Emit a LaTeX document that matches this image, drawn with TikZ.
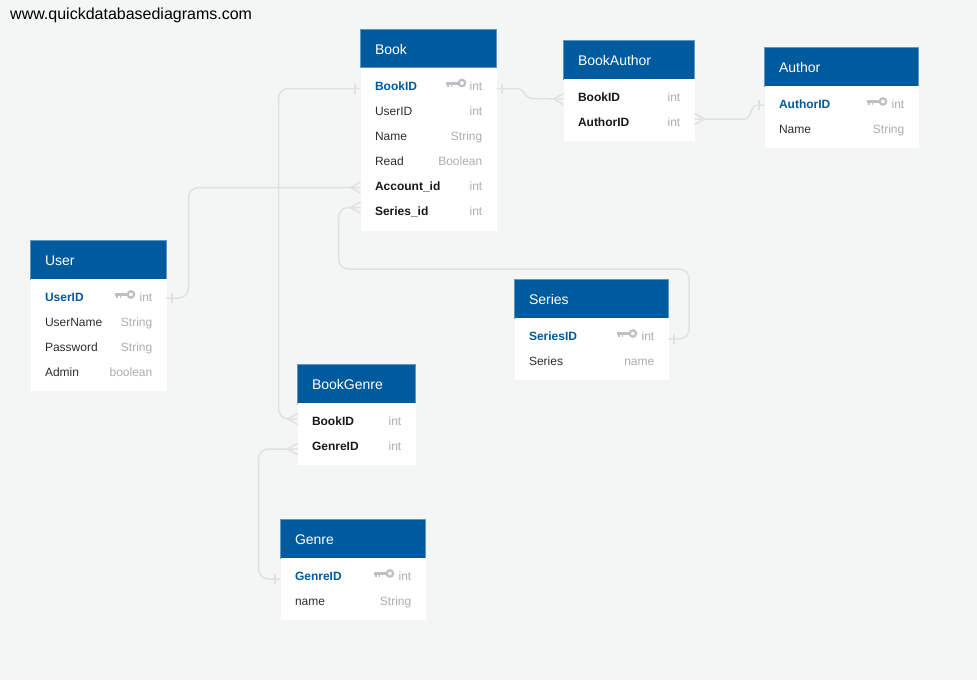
\documentclass[tikz,border=0pt]{standalone}
\usepackage{fontspec}
\setmainfont{Liberation Sans}
\usetikzlibrary{positioning}
\definecolor{pagebg}{HTML}{F4F6F6}
\definecolor{headblue}{HTML}{005A9E}
\definecolor{headedge}{HTML}{5C96C4}
\definecolor{linkgrey}{HTML}{DEE1E6}
\definecolor{typegrey}{HTML}{ABADB0}
\definecolor{keygrey}{HTML}{BDBFC2}
\definecolor{fieldtext}{HTML}{2E2E2E}
\tikzset{
    tablehead/.style = {draw=headedge, line width=0.7pt, fill=headblue, text=white, outer sep=0pt, inner xsep=14.5pt, inner ysep=0pt,
        minimum height=38.5pt, text width=#1-29pt, align=left, font=\fontsize{14}{16}\selectfont, text height=12.5pt, text depth=0.5pt},
    tablebody/.style = {fill=white, outer sep=0pt, inner sep=0pt, minimum width=#1},
    fieldrow/.style = {outer sep=0pt, inner xsep=14.5pt, inner ysep=0pt, minimum height=25pt, text width=#1-29pt, align=left,
        font=\fontsize{12}{14}\selectfont, text=fieldtext, text height=10.5pt, text depth=1.5pt},
    keyfield/.style = {font=\fontsize{12}{14}\selectfont\bfseries, text=headblue},
    linkfield/.style = {font=\fontsize{12}{14}\selectfont\bfseries, text=black!90},
    fieldtype/.style = {font=\fontsize{12}{14}\selectfont, text=typegrey, inner sep=0pt, text height=10.5pt, text depth=1.5pt},
    link/.style = {draw=linkgrey, line width=1.5pt, rounded corners=10pt},
    crow/.pic = {\draw[linkgrey, line width=1.5pt] (0,-5.5) -- (-10,0) -- (0,5.5);},
    onebar/.pic = {\draw[linkgrey, line width=1.5pt] (-5.5,-5) -- (-5.5,5);},
    keyicon/.pic = {
        \draw[keygrey, line width=2.2pt] (-4.5,0) circle (3.2pt);
        \draw[keygrey, line width=3pt] (-7.5,0) -- (-20,0);
        \draw[keygrey, line width=1.8pt] (-18.5,0) -- (-18.5,3.5) (-15,0) -- (-15,3.5);
    }
}
\begin{document}
\begin{tikzpicture}[x=1pt, y=-1pt, node distance=0pt]
    \fill[pagebg] (0,0) rectangle (977,680);
    \node[anchor=west, inner sep=0pt, font=\fontsize{16}{18}\selectfont, text=black] (site) at (10,15) {www.quickdatabasediagrams.com};

    \node[tablehead=136pt, anchor=north west] (book) at (360.5,29) {Book};
    \node[tablebody=136pt, minimum height=163pt, below=of book] (bookbody) {};
    \node[fieldrow=136pt, keyfield, below=5.5pt of bookbody.north] (bookBookID) {BookID};
    \node[fieldrow=136pt, below=of bookBookID] (bookUserID) {UserID};
    \node[fieldrow=136pt, below=of bookUserID] (bookName) {Name};
    \node[fieldrow=136pt, below=of bookName] (bookRead) {Read};
    \node[fieldrow=136pt, linkfield, below=of bookRead] (bookAccount) {Account\_id};
    \node[fieldrow=136pt, linkfield, below=of bookAccount] (bookSeries) {Series\_id};
    \node[fieldtype, left=14pt of bookBookID.east] (bookBookIDtype) {int};
    \node[fieldtype, left=14pt of bookUserID.east] (bookUserIDtype) {int};
    \node[fieldtype, left=14pt of bookName.east] (bookNametype) {String};
    \node[fieldtype, left=14pt of bookRead.east] (bookReadtype) {Boolean};
    \node[fieldtype, left=14pt of bookAccount.east] (bookAccounttype) {int};
    \node[fieldtype, left=14pt of bookSeries.east] (bookSeriestype) {int};
    \pic at ([xshift=-3pt,yshift=2.5pt]bookBookIDtype.west) {keyicon};

    \node[tablehead=131pt, anchor=north west] (bookauthor) at (563.5,40.5) {BookAuthor};
    \node[tablebody=131pt, minimum height=62pt, below=of bookauthor] (bookauthorbody) {};
    \node[fieldrow=131pt, linkfield, below=5.5pt of bookauthorbody.north] (baBookID) {BookID};
    \node[fieldrow=131pt, linkfield, below=of baBookID] (baAuthorID) {AuthorID};
    \node[fieldtype, left=14pt of baBookID.east] (baBookIDtype) {int};
    \node[fieldtype, left=14pt of baAuthorID.east] (baAuthorIDtype) {int};

    \node[tablehead=154pt, anchor=north west] (author) at (764.5,47.5) {Author};
    \node[tablebody=154pt, minimum height=62pt, below=of author] (authorbody) {};
    \node[fieldrow=154pt, keyfield, below=5.5pt of authorbody.north] (authorAuthorID) {AuthorID};
    \node[fieldrow=154pt, below=of authorAuthorID] (authorName) {Name};
    \node[fieldtype, left=14pt of authorAuthorID.east] (authorAuthorIDtype) {int};
    \node[fieldtype, left=14pt of authorName.east] (authorNametype) {String};
    \pic at ([xshift=-4pt,yshift=2.5pt]authorAuthorIDtype.west) {keyicon};

    \node[tablehead=136pt, anchor=north west] (user) at (30.5,240.5) {User};
    \node[tablebody=136pt, minimum height=112pt, below=of user] (userbody) {};
    \node[fieldrow=136pt, keyfield, below=5.5pt of userbody.north] (userUserID) {UserID};
    \node[fieldrow=136pt, below=of userUserID] (userUserName) {UserName};
    \node[fieldrow=136pt, below=of userUserName] (userPassword) {Password};
    \node[fieldrow=136pt, below=of userPassword] (userAdmin) {Admin};
    \node[fieldtype, left=14pt of userUserID.east] (userUserIDtype) {int};
    \node[fieldtype, left=14pt of userUserName.east] (userUserNametype) {String};
    \node[fieldtype, left=14pt of userPassword.east] (userPasswordtype) {String};
    \node[fieldtype, left=14pt of userAdmin.east] (userAdmintype) {boolean};
    \pic at ([xshift=-4pt,yshift=2.5pt]userUserIDtype.west) {keyicon};

    \node[tablehead=154pt, anchor=north west] (series) at (514.5,279.5) {Series};
    \node[tablebody=154pt, minimum height=62pt, below=of series] (seriesbody) {};
    \node[fieldrow=154pt, keyfield, below=5.5pt of seriesbody.north] (seriesSeriesID) {SeriesID};
    \node[fieldrow=154pt, below=of seriesSeriesID] (seriesSeries) {Series};
    \node[fieldtype, left=14pt of seriesSeriesID.east] (seriesSeriesIDtype) {int};
    \node[fieldtype, left=14pt of seriesSeries.east] (seriesSeriestype) {name};
    \pic at ([xshift=-4pt,yshift=2.5pt]seriesSeriesIDtype.west) {keyicon};

    \node[tablehead=118pt, anchor=north west] (bookgenre) at (297.5,364.5) {BookGenre};
    \node[tablebody=118pt, minimum height=62pt, below=of bookgenre] (bookgenrebody) {};
    \node[fieldrow=118pt, linkfield, below=5.5pt of bookgenrebody.north] (bgBookID) {BookID};
    \node[fieldrow=118pt, linkfield, below=of bgBookID] (bgGenreID) {GenreID};
    \node[fieldtype, left=14pt of bgBookID.east] (bgBookIDtype) {int};
    \node[fieldtype, left=14pt of bgGenreID.east] (bgGenreIDtype) {int};

    \node[tablehead=145pt, anchor=north west] (genre) at (280.5,519.5) {Genre};
    \node[tablebody=145pt, minimum height=62pt, below=of genre] (genrebody) {};
    \node[fieldrow=145pt, keyfield, below=5.5pt of genrebody.north] (genreGenreID) {GenreID};
    \node[fieldrow=145pt, below=of genreGenreID] (genreName) {name};
    \node[fieldtype, left=14pt of genreGenreID.east] (genreGenreIDtype) {int};
    \node[fieldtype, left=14pt of genreName.east] (genreNametype) {String};
    \pic at ([xshift=-4pt,yshift=2.5pt]genreGenreIDtype.west) {keyicon};

    \coordinate (bookKeyW) at ([yshift=-3pt]bookBookID.west);
    \coordinate (bookKeyE) at ([yshift=-3pt]bookBookID.east);
    \coordinate (accountEnd) at ([yshift=-2pt]bookAccount.west);
    \coordinate (seriesEnd) at ([yshift=3pt]bookSeries.west);
    \coordinate (userKeyE) at ([yshift=-1pt]userUserID.east);
    \coordinate (seriesKeyE) at ([yshift=-3pt]seriesSeriesID.east);
    \coordinate (bgBookEnd) at ([yshift=2pt]bgBookID.west);
    \coordinate (bgGenreEnd) at ([yshift=-3pt]bgGenreID.west);
    \coordinate (genreKeyW) at ([yshift=-3pt]genreGenreID.west);
    \coordinate (baBookEnd) at ([yshift=-2pt]baBookID.west);
    \coordinate (baAuthorEnd) at ([yshift=3pt]baAuthorID.east);
    \coordinate (authorKeyW) at ([yshift=-1pt]authorAuthorID.west);

    \draw[link] (bookKeyW) -- ++(-82,0) |- (bgBookEnd);
    \draw[link] (userKeyE) -- ++(22,0) |- (accountEnd);
    \draw[link] (seriesKeyE) -- ++(20.5,0) -- ++(0,-70) -- ++(-350.5,0) |- (seriesEnd);
    \draw[link] (bgGenreEnd) -- ++(-39,0) |- (genreKeyW);
    \draw[link, rounded corners=0pt] (bookKeyE) -- ++(21,0) .. controls +(7,0) and +(-7,0) .. ++(14,10) -- (baBookEnd);
    \draw[link, rounded corners=0pt] (baAuthorEnd) -- ++(50,0) .. controls +(7,0) and +(-7,0) .. ++(13,-14) -- (authorKeyW);

    \pic at (bookKeyW) {onebar};
    \pic[xscale=-1] at (bookKeyE) {onebar};
    \pic[xscale=-1] at (userKeyE) {onebar};
    \pic[xscale=-1] at (seriesKeyE) {onebar};
    \pic at (genreKeyW) {onebar};
    \pic at (authorKeyW) {onebar};
    \pic at (accountEnd) {crow};
    \pic at (seriesEnd) {crow};
    \pic at (bgBookEnd) {crow};
    \pic at (bgGenreEnd) {crow};
    \pic at (baBookEnd) {crow};
    \pic[xscale=-1] at (baAuthorEnd) {crow};
\end{tikzpicture}
\end{document}
